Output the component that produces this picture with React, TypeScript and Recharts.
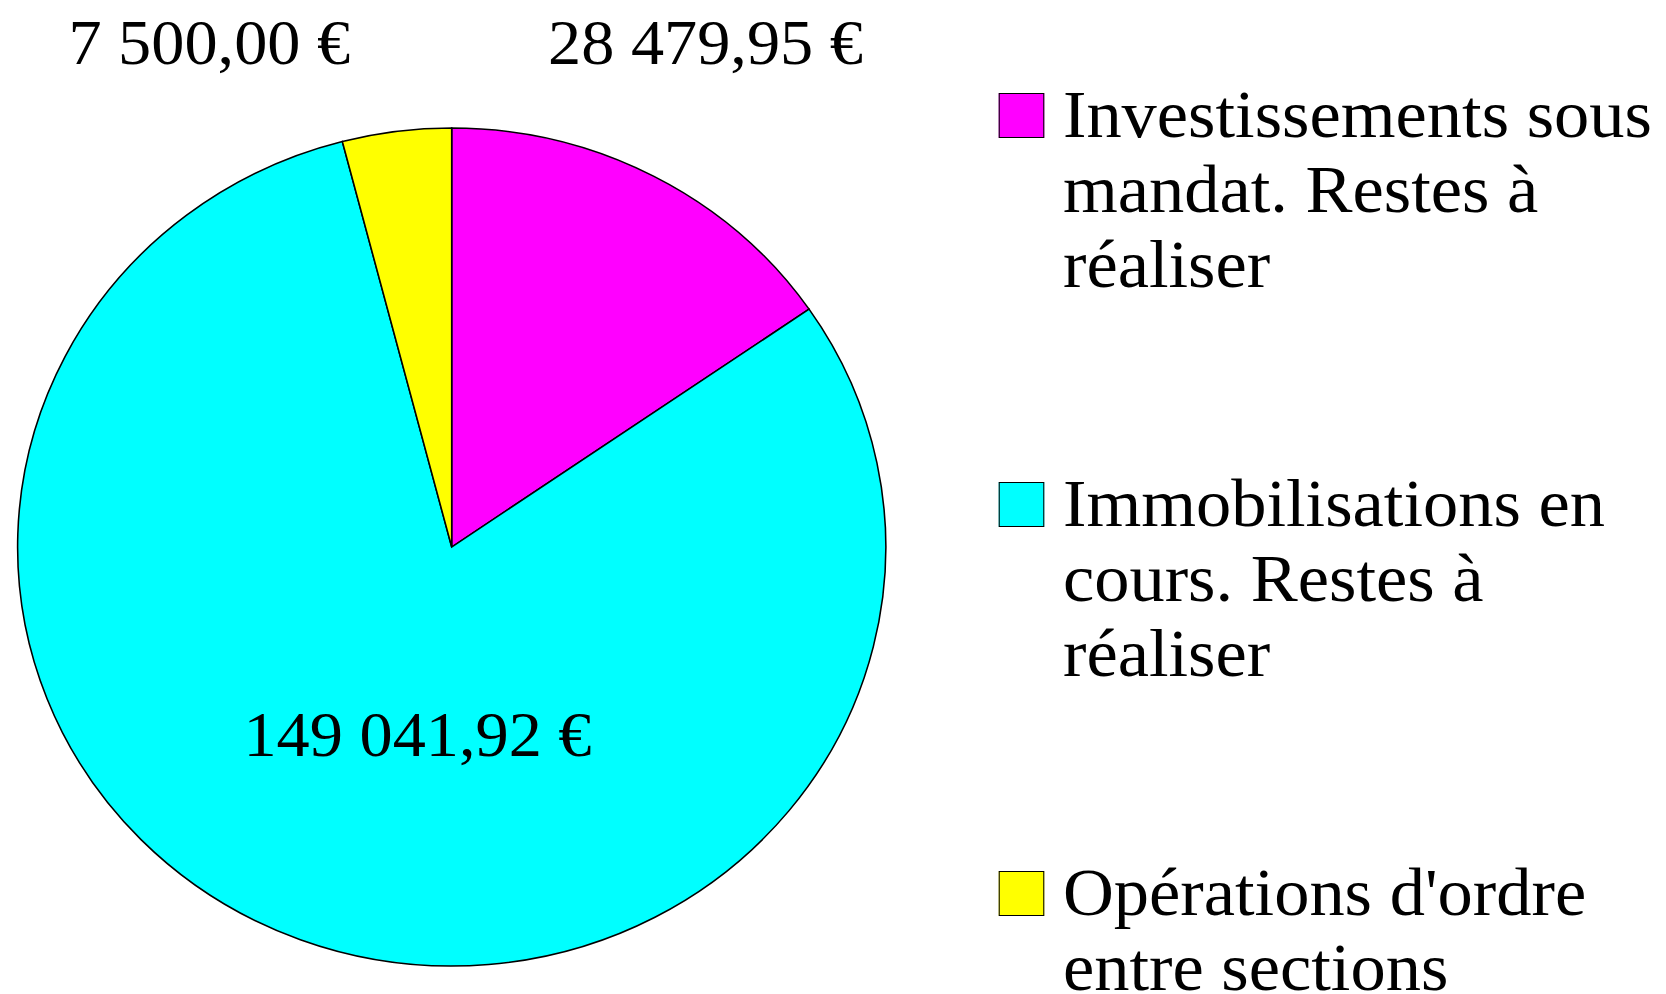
import React from "react";
import { PieChart, Pie, Cell } from "recharts";

// Montants par section (restes à réaliser), libellés coupés comme dans l'original
const legendLines = [
  ["Investissements sous", "mandat. Restes à", "réaliser"],
  ["Immobilisations en", "cours. Restes à", "réaliser"],
  ["Opérations d'ordre", "entre sections"],
];
const categories = legendLines.map((l) => l.join(" "));
const amounts = [28479.95, 149041.92, 7500.0];
const sliceColors = ["#FF00FF", "#00FFFF", "#FFFF00"];

const data = categories.map((name, i) => ({ name, value: amounts[i] }));

// the source image is slightly stretched horizontally
const stretch = 1.036;
const innerWidth = 1666 / stretch;
const font = '"Liberation Serif", "Times New Roman", serif';

// where the original placed each value label, relative to the pie centre
const labelOffsets = [
  { dx: 245, dy: -483 },
  { dx: -33, dy: 209 },
  { dx: -234, dy: -483 },
];

const formatEuro = (v: number) => {
  const [int, dec] = v.toFixed(2).split(".");
  return int.replace(/\B(?=(\d{3})+(?!\d))/g, " ") + "," + dec + " €";
};

const renderLabel = (props: any) => {
  const { cx, cy, index, value } = props;
  const off = labelOffsets[index];
  return (
    <text
      x={cx + off.dx}
      y={cy + off.dy}
      textAnchor="middle"
      fill="#000"
      style={{ fontFamily: font, fontSize: 64 }}
    >
      {formatEuro(value)}
    </text>
  );
};

export default function App() {
  return (
    <div
      style={{
        position: "relative",
        width: innerWidth,
        height: 994,
        overflow: "hidden",
        transform: `scaleX(${stretch})`,
        transformOrigin: "0 0",
        background: "#fff",
      }}
    >
      <style>{`body { margin: 0; }`}</style>
      <PieChart
        width={innerWidth}
        height={994}
        margin={{ top: 0, right: 0, bottom: 0, left: 0 }}
      >
        <Pie
          data={data}
          dataKey="value"
          cx={436}
          cy={547}
          outerRadius={419}
          startAngle={90}
          endAngle={-270}
          stroke="#000"
          strokeWidth={1.5}
          labelLine={false}
          label={renderLabel}
          isAnimationActive={false}
        >
          {data.map((_, i) => (
            <Cell key={`cell-${i}`} fill={sliceColors[i]} />
          ))}
        </Pie>
      </PieChart>

      {/* Légende */}
      <div style={{ position: "absolute", left: 964, top: 77, width: 644 }}>
        {legendLines.map((lines, i) => (
          <div
            key={categories[i]}
            style={{ height: 389, display: "flex", alignItems: "flex-start" }}
          >
            <span
              style={{
                flex: "none",
                boxSizing: "border-box",
                width: 43.5,
                height: 45,
                marginTop: 16,
                marginRight: 18.5,
                border: "1.5px solid #000",
                background: sliceColors[i],
              }}
            />
            <span
              style={{
                whiteSpace: "nowrap",
                fontFamily: font,
                fontSize: 68,
                lineHeight: "75px",
                color: "#000",
              }}
            >
              {lines.map((t) => (
                <div key={t}>{t}</div>
              ))}
            </span>
          </div>
        ))}
      </div>
    </div>
  );
}
